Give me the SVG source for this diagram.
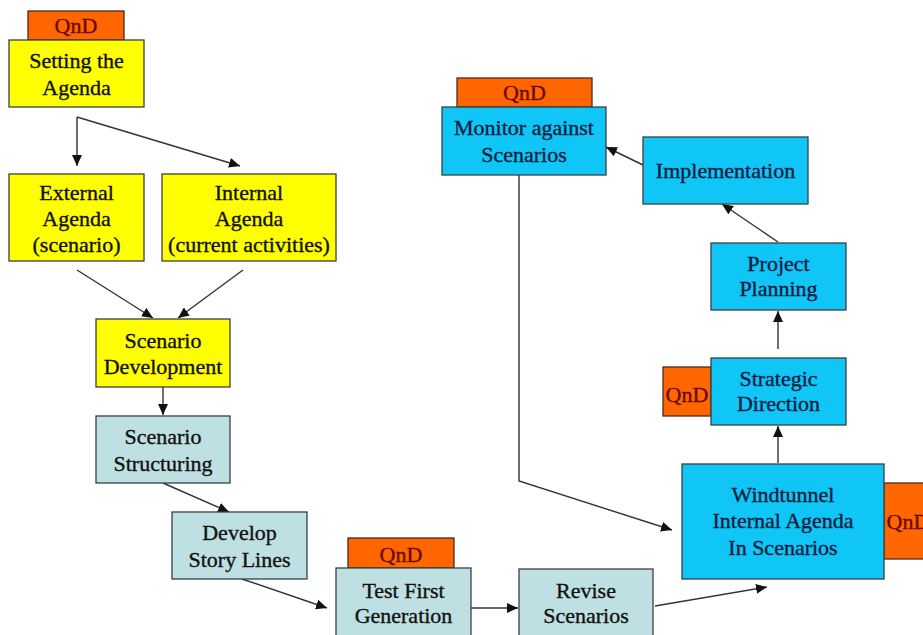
<svg xmlns="http://www.w3.org/2000/svg" width="923" height="635" viewBox="0 0 923 635">
<style>
.box{stroke:#3a3f44;stroke-width:1.3}
.y{fill:#ffff00}
.g{fill:#bfe0e2}
.c{fill:#0fc6f6}
.tab{fill:#ff6600;stroke:#4a2a20;stroke-width:1.3}
text{font-family:"Liberation Serif","Times New Roman",serif;font-size:22px;text-anchor:middle;stroke-width:0.35}
.tk{fill:#111;stroke:#111}
.tn{fill:#0d1b3e;stroke:#0d1b3e}
.tq{fill:#6a0a00;stroke:#6a0a00}
.conn path{fill:none;stroke:#333;stroke-width:1.4;marker-end:url(#ah)}
</style>
<defs>
<marker id="ah" markerUnits="userSpaceOnUse" markerWidth="12" markerHeight="10" refX="11" refY="5" orient="auto">
<path d="M0,0 L11,5 L0,10 Z" fill="#111"/>
</marker>
</defs>
<rect width="923" height="635" fill="#ffffff"/>
<g class="conn">
<path d="M77,117 L77,166"/>
<path d="M77,117 L240,166"/>
<path d="M77,270 L153,318"/>
<path d="M243,270 L178,318"/>
<path d="M163,387 L163,415"/>
<path d="M163,483 L229,512"/>
<path d="M242,579 L327,608"/>
<path d="M471,608 L518,608"/>
<path d="M655,606 L767,587"/>
<path d="M519,175 L519,481 L672,530"/>
<path d="M778,463 L778,426"/>
<path d="M778,349 L778,311"/>
<path d="M778,242 L722,204"/>
<path d="M643,165 L606,147"/>
</g>
<g id="setting-agenda">
<rect class="tab" x="28" y="11" width="96" height="29"/>
<text class="tq" x="76" y="33">QnD</text>
<rect class="box y" x="9" y="40" width="135" height="67"/>
<text class="tk" x="76.5" y="68">Setting the</text>
<text class="tk" x="76.5" y="95">Agenda</text>
</g>
<g id="external-agenda">
<rect class="box y" x="9" y="174" width="135" height="87"/>
<text class="tk" x="76.5" y="200">External</text>
<text class="tk" x="76.5" y="226">Agenda</text>
<text class="tk" x="76.5" y="252">(scenario)</text>
</g>
<g id="internal-agenda">
<rect class="box y" x="162" y="174" width="174" height="87"/>
<text class="tk" x="249" y="200">Internal</text>
<text class="tk" x="249" y="226">Agenda</text>
<text class="tk" x="249" y="252">(current activities)</text>
</g>
<g id="scenario-development">
<rect class="box y" x="96" y="319" width="134" height="68"/>
<text class="tk" x="163" y="348">Scenario</text>
<text class="tk" x="163" y="374">Development</text>
</g>
<g id="scenario-structuring">
<rect class="box g" x="96" y="416" width="134" height="67"/>
<text class="tk" x="163" y="444">Scenario</text>
<text class="tk" x="163" y="471">Structuring</text>
</g>
<g id="develop-story-lines">
<rect class="box g" x="172" y="512" width="135" height="67"/>
<text class="tk" x="239.5" y="540">Develop</text>
<text class="tk" x="239.5" y="567">Story Lines</text>
</g>
<g id="test-first-generation">
<rect class="tab" x="348" y="538" width="106" height="30"/>
<text class="tq" x="401" y="562">QnD</text>
<rect class="box g" x="336" y="568" width="135" height="75"/>
<text class="tk" x="403.5" y="598">Test First</text>
<text class="tk" x="403.5" y="623">Generation</text>
</g>
<g id="revise-scenarios">
<rect class="box g" x="519" y="569" width="134" height="75"/>
<text class="tk" x="586" y="598">Revise</text>
<text class="tk" x="586" y="623">Scenarios</text>
</g>
<g id="windtunnel">
<rect class="tab" x="884" y="483" width="50" height="76"/>
<text class="tq" x="908" y="529">QnD</text>
<rect class="box c" x="682" y="464" width="202" height="115"/>
<text class="tn" x="783" y="502">Windtunnel</text>
<text class="tn" x="783" y="528">Internal Agenda</text>
<text class="tn" x="783" y="555">In Scenarios</text>
</g>
<g id="strategic-direction">
<rect class="tab" x="663" y="367" width="48" height="49"/>
<text class="tq" x="687" y="402">QnD</text>
<rect class="box c" x="711" y="358" width="135" height="67"/>
<text class="tn" x="778.5" y="386">Strategic</text>
<text class="tn" x="778.5" y="411">Direction</text>
</g>
<g id="project-planning">
<rect class="box c" x="711" y="243" width="135" height="67"/>
<text class="tn" x="778.5" y="271">Project</text>
<text class="tn" x="778.5" y="296">Planning</text>
</g>
<g id="implementation">
<rect class="box c" x="643" y="137" width="165" height="67"/>
<text class="tn" x="725.5" y="178">Implementation</text>
</g>
<g id="monitor-against-scenarios">
<rect class="tab" x="457" y="78" width="135" height="29"/>
<text class="tq" x="524.5" y="100">QnD</text>
<rect class="box c" x="442" y="107" width="164" height="68"/>
<text class="tn" x="524" y="135">Monitor against</text>
<text class="tn" x="524" y="162">Scenarios</text>
</g>
</svg>
